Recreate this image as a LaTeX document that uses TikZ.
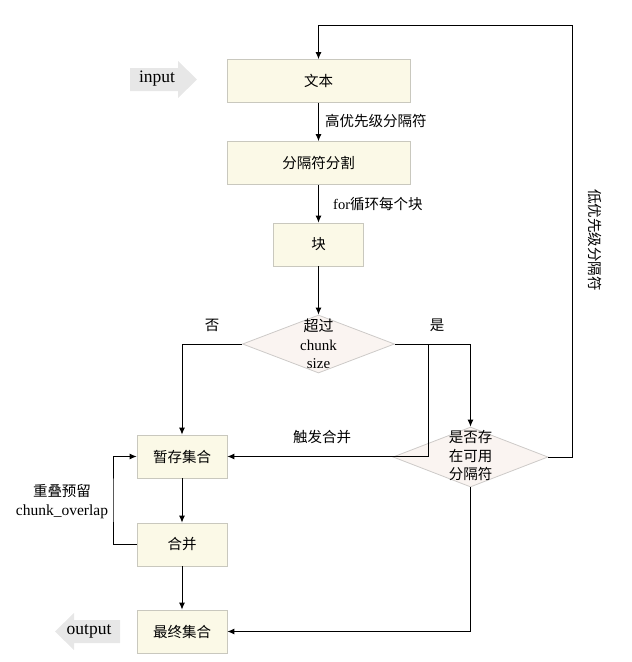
\documentclass[tikz,border=0pt]{standalone}
\usepackage{fontspec}
\setmainfont{Liberation Serif}
\newfontfamily\cjk{Noto Sans CJK SC}
\usetikzlibrary{arrows.meta,shapes.geometric}
\definecolor{boxfill}{HTML}{FBF9E7}
\definecolor{boxline}{HTML}{C9C8BE}
\definecolor{askfill}{HTML}{FAF4F1}
\definecolor{askline}{HTML}{CDCAC8}
\definecolor{iogray}{HTML}{E7E7E7}
\tikzset{
  stepbox/.style={rectangle, fill=boxfill, draw=boxline, line width=0.8pt,
    minimum width=90, minimum height=43, font=\fontsize{14.5}{17}\selectfont\cjk},
  ask/.style={diamond, fill=askfill, draw=askline, line width=0.8pt, inner sep=0pt},
  flow/.style={line width=0.9pt, -{Latex[length=7pt,width=6pt]}},
  zh/.style={font=\fontsize{14.5}{17}\selectfont\cjk, inner sep=0pt},
  serif/.style={font=\fontsize{15.5}{19}\selectfont, inner sep=0pt, align=center},
}
\begin{document}
\begin{tikzpicture}[x=1pt, y=-1pt]
    \useasboundingbox (0,0) rectangle (632,662);

    % boxes
    \node[stepbox, minimum width=183] (txt) at (318.5,81) {文本};
    \node[stepbox, minimum width=183] (split) at (318.5,163) {分隔符分割};
    \node[stepbox] (chunk) at (318.5,244.5) {块};
    \node[ask, minimum width=152, minimum height=58] (over) at (318.5,344) {};
    \node[serif, font=\fontsize{15}{18.5}\selectfont] (overtxt) at (318.5,344) {{\cjk 超过}\\chunk\\size};
    \node[ask, minimum width=155, minimum height=60] (avail) at (470.5,457) {};
    \node[zh, align=center, font=\fontsize{14.5}{18.5}\selectfont\cjk] (availtxt) at (470.5,456) {是否存\\在可用\\分隔符};
    \node[stepbox] (store) at (182,456.5) {暂存集合};
    \node[stepbox] (merge) at (182,544.5) {合并};
    \node[stepbox] (final) at (182,631.5) {最终集合};

    % input / output
    \fill[iogray] (130,68) -- (178,68) -- (178,61) -- (197,79.5) -- (178,98) -- (178,91) -- (130,91) -- cycle;
    \node[serif, font=\fontsize{17.5}{20}\selectfont] (input) at (157,79) {input};
    \fill[iogray] (120,620) -- (74,620) -- (74,613) -- (55,631.5) -- (74,650) -- (74,643) -- (120,643) -- cycle;
    \node[serif, font=\fontsize{17.5}{20}\selectfont] (output) at (89,631) {output};

    % corners
    \coordinate (trig) at (428,456.5);
    \coordinate (back) at (572,25);
    \coordinate (keep) at (113,500);

    % connectors
    \draw[flow] (txt) -- (split);
    \draw[flow] (split) -- (chunk);
    \draw[flow] (chunk) -- (over);
    \draw[flow] (over.west) -| (store.north);
    \draw[flow] (over.east) -| (avail.north);
    \draw[flow] (over.east) -| (trig) -- (store.east);
    \draw[flow] (avail.south) |- (final.east);
    \draw[flow] (avail.east) -| (back) -| (txt.north);
    \draw[flow] (store) -- (merge);
    \draw[flow] (merge) -- (final);
    \draw[flow] (merge.west) -| (keep) |- (store.west);

    % labels
    \node[zh, anchor=west] (high) at (325,121) {高优先级分隔符};
    \node[anchor=west, inner sep=0pt, font=\fontsize{14.5}{17}\selectfont] (forlbl) at (333,204) {for{\cjk 循环每个块}};
    \node[zh] (nolbl) at (212,325) {否};
    \node[zh] (yeslbl) at (437,325) {是};
    \node[zh] (triglbl) at (322,437) {触发合并};
    \node[serif] (keeplbl) at (62,502) {{\cjk\fontsize{14.5}{17}\selectfont 重叠预留}\\chunk\_overlap};
    \node[zh, rotate=-90] (lowlbl) at (595,240) {低优先级分隔符};
\end{tikzpicture}
\end{document}
